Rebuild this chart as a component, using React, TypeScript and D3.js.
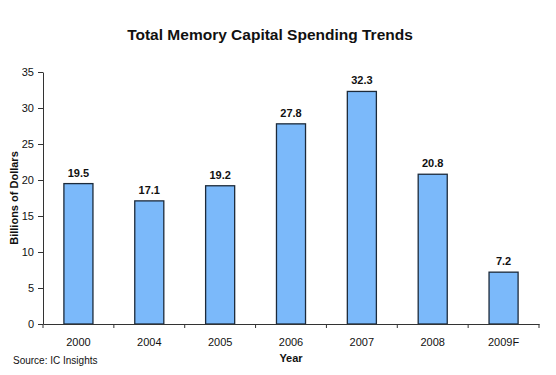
import * as d3 from "d3";
import { useEffect, useRef } from "react";

// ---- data ----
const years = ["2000", "2004", "2005", "2006", "2007", "2008", "2009F"];
const spending = [19.5, 17.1, 19.2, 27.8, 32.3, 20.8, 7.2];
const yTicks = [0, 5, 10, 15, 20, 25, 30, 35];

export default function App() {
  const ref = useRef<SVGSVGElement>(null);

  useEffect(() => {
    const width = 556;
    const height = 375;
    const margin = { top: 72, right: 17, bottom: 51, left: 43 };
    const innerW = width - margin.left - margin.right;
    const innerH = height - margin.top - margin.bottom;
    const font = "Arial, 'Liberation Sans', sans-serif";

    const svg = d3.select(ref.current);
    svg.selectAll("*").remove();
    svg.attr("viewBox", `0 0 ${width} ${height}`).style("font-family", font);

    svg.append("rect").attr("width", width).attr("height", height).attr("fill", "#fff");

    const g = svg.append("g").attr("transform", `translate(${margin.left},${margin.top})`);

    const x = d3.scaleBand().domain(years).range([0, innerW]).paddingInner(0.59).paddingOuter(0.295);
    const y = d3.scaleLinear().domain([0, 35]).range([innerH, 0]);

    // bars
    g.selectAll("rect.bar")
      .data(spending)
      .join("rect")
      .attr("class", "bar")
      .attr("x", (_, i) => x(years[i])!)
      .attr("y", (d) => y(d))
      .attr("width", x.bandwidth())
      .attr("height", (d) => innerH - y(d))
      .attr("fill", "#7bb9fa")
      .attr("stroke", "#1c2a3a")
      .attr("stroke-width", 1.3);

    // value labels
    g.selectAll("text.val")
      .data(spending)
      .join("text")
      .attr("class", "val")
      .attr("x", (_, i) => x(years[i])! + x.bandwidth() / 2)
      .attr("y", (d) => y(d) - 7)
      .attr("text-anchor", "middle")
      .attr("font-size", 11)
      .attr("font-weight", 700)
      .attr("fill", "#111")
      .text((d) => d.toFixed(1));

    // y axis
    const yAxis = g.append("g").call(d3.axisLeft(y).tickValues(yTicks).tickSize(5).tickSizeOuter(0));
    yAxis.select(".domain").attr("stroke", "#333");
    yAxis.selectAll(".tick line").attr("stroke", "#333");
    yAxis.selectAll(".tick text").attr("font-size", 11).attr("font-family", font).attr("fill", "#111").attr("x", -9);

    // x axis
    const xAxis = g
      .append("g")
      .attr("transform", `translate(0,${innerH})`)
      .call(d3.axisBottom(x).tickSize(0).tickSizeOuter(0));
    xAxis.select(".domain").attr("stroke", "#333");
    xAxis
      .selectAll(".tick text")
      .attr("font-size", 11)
      .attr("font-family", font)
      .attr("fill", "#111")
      .attr("y", 22)
      .attr("dy", 0);

    // x ticks at category boundaries
    const step = x.step();
    const bounds = d3.range(years.length + 1).map((i) => i * step);
    g.append("g")
      .selectAll("line")
      .data(bounds)
      .join("line")
      .attr("x1", (d) => d)
      .attr("x2", (d) => d)
      .attr("y1", innerH)
      .attr("y2", innerH + 4)
      .attr("stroke", "#333");

    // title
    svg
      .append("text")
      .attr("x", 270)
      .attr("y", 40)
      .attr("text-anchor", "middle")
      .attr("font-size", 15.5)
      .attr("font-weight", 700)
      .attr("fill", "#111")
      .text("Total Memory Capital Spending Trends");

    // y label
    svg
      .append("text")
      .attr("transform", `translate(18,198) rotate(-90)`)
      .attr("text-anchor", "middle")
      .attr("font-size", 11)
      .attr("font-weight", 700)
      .attr("fill", "#111")
      .text("Billions of Dollars");

    // x label
    svg
      .append("text")
      .attr("x", 291)
      .attr("y", 362)
      .attr("text-anchor", "middle")
      .attr("font-size", 11)
      .attr("font-weight", 700)
      .attr("fill", "#111")
      .text("Year");

    // source
    svg
      .append("text")
      .attr("x", 13)
      .attr("y", 364)
      .attr("font-size", 10)
      .attr("fill", "#111")
      .text("Source: IC Insights");
  }, []);

  return (
    <svg
      ref={ref}
      width={556}
      height={375}
      style={{ position: "absolute", left: 0, top: 0, display: "block" }}
    />
  );
}
